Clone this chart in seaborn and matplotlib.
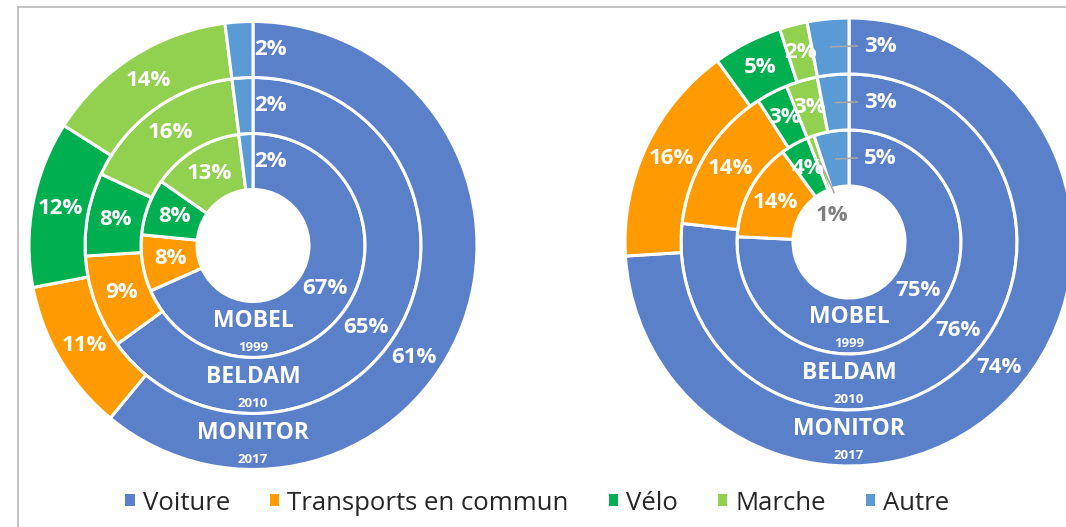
import numpy as np
import matplotlib
matplotlib.use("Agg")
from matplotlib import pyplot as plt
from matplotlib.patches import Patch
from matplotlib.lines import Line2D
import seaborn as sns

modes = ["Voiture", "Transports en commun", "Vélo", "Marche", "Autre"]
surveys = ["MOBEL", "BELDAM", "MONITOR"]
years = ["1999", "2010", "2017"]

# Left chart, modal shares per survey (inner ring -> outer ring).
left_mobel = [67, 8, 8, 13, 2]
left_beldam = [65, 9, 8, 16, 2]
left_monitor = [61, 11, 12, 14, 2]

# Right chart.
right_mobel = [75, 14, 4, 1, 5]
right_beldam = [76, 14, 3, 3, 3]
right_monitor = [74, 16, 5, 2, 3]

colors = ["#5B80CA", "#FF9A00", "#00B050", "#92D050", "#5B9BD5"]

sns.set_theme(style="white")
plt.rcParams["font.family"] = ["Open Sans", "DejaVu Sans"]

W, H = 1066, 527
R = 224.0      # outer radius in pixels
HALF = 235.0   # half size of each axes box in pixels
RING_W = 0.25
LEADER = "#A6A6A6"


def add_axes(fig, cx, cy):
    ax = fig.add_axes([(cx - HALF) / W, (H - cy - HALF) / H, 2 * HALF / W, 2 * HALF / H])
    return ax


def draw_donut(ax, rings, car_angles, other_x, other_leader, tiny=None):
    """
    Draw three concentric rings with their labels.
    car_angles: clock angles (deg from top) for the Voiture labels.
    other_x: x position of the Autre labels.
    tiny: (ring, index, x, y) of a slice labelled outside the ring.
    """
    for i, vals in enumerate(rings):
        radius = 0.25 + RING_W * (i + 1)
        wedges, _ = ax.pie(vals, radius=radius, colors=colors, startangle=90, counterclock=False,
                           wedgeprops=dict(width=RING_W, edgecolor="white", linewidth=2.2))
        r_mid = radius - RING_W / 2
        for j, (w, v) in enumerate(zip(wedges, vals)):
            mid = np.deg2rad((w.theta1 + w.theta2) / 2)
            x, y = r_mid * np.cos(mid), r_mid * np.sin(mid)
            color = "white"
            if j == 0:
                a = np.deg2rad(90 - car_angles[i])
                x, y = r_mid * np.cos(a), r_mid * np.sin(a)
            elif j == len(vals) - 1:
                wx, wy = x, y
                x, y = other_x, r_mid
                if other_leader:
                    ax.plot([wx, x - 0.105], [wy, y], color=LEADER, lw=1.2, zorder=3)
            if tiny is not None and tiny[0] == i and tiny[1] == j:
                wx, wy = x, y
                x, y = tiny[2], tiny[3]
                color = "#7F7F7F"
                ax.plot([wx, x + 0.01], [wy, y + 0.1], color=LEADER, lw=1.2, zorder=3)
            ax.text(x, y, f"{v}%", ha="center", va="center", color=color,
                    fontsize=16, fontweight="bold", zorder=4)
        # survey name and year at the bottom of the ring
        r_in = radius - RING_W
        ax.text(0, -(r_in + 0.085), surveys[i], ha="center", va="center", color="white",
                fontsize=16.5, fontweight="bold", zorder=4)
        ax.text(0, -(r_in + 0.205), years[i], ha="center", va="center", color="white",
                fontsize=9.5, fontweight="bold", zorder=4)
    lim = HALF / R
    ax.set_xlim(-lim, lim)
    ax.set_ylim(-lim, lim)
    ax.set_aspect("equal")
    ax.axis("off")


fig = plt.figure(figsize=(W / 100, H / 100), dpi=100)

ax_left = add_axes(fig, 253, 245.5)
draw_donut(ax_left, [left_mobel, left_beldam, left_monitor], [121, 126, 125], 0.076, False)

ax_right = add_axes(fig, 849, 242)
draw_donut(ax_right, [right_mobel, right_beldam, right_monitor], [125, 129, 130], 0.14, True,
           tiny=(0, 3, -0.076, 0.12))

# chart area frame (top and left edges visible)
fig.add_artist(Line2D([18 / W, 1], [1 - 7 / H, 1 - 7 / H], transform=fig.transFigure,
                      color="#BFBFBF", lw=1.3))
fig.add_artist(Line2D([18 / W, 18 / W], [0, 1 - 7 / H], transform=fig.transFigure,
                      color="#BFBFBF", lw=1.3))

handles = [Patch(facecolor=c, edgecolor="none", label=m) for c, m in zip(colors, modes)]
fig.legend(handles=handles, loc="center", bbox_to_anchor=(0.504, 1 - 503 / H), ncol=5,
           frameon=False, fontsize=18.5, handlelength=0.36, handleheight=0.36,
           handletextpad=0.32, columnspacing=1.55, labelcolor="#262626")

fig.savefig("out.png", dpi=100)
